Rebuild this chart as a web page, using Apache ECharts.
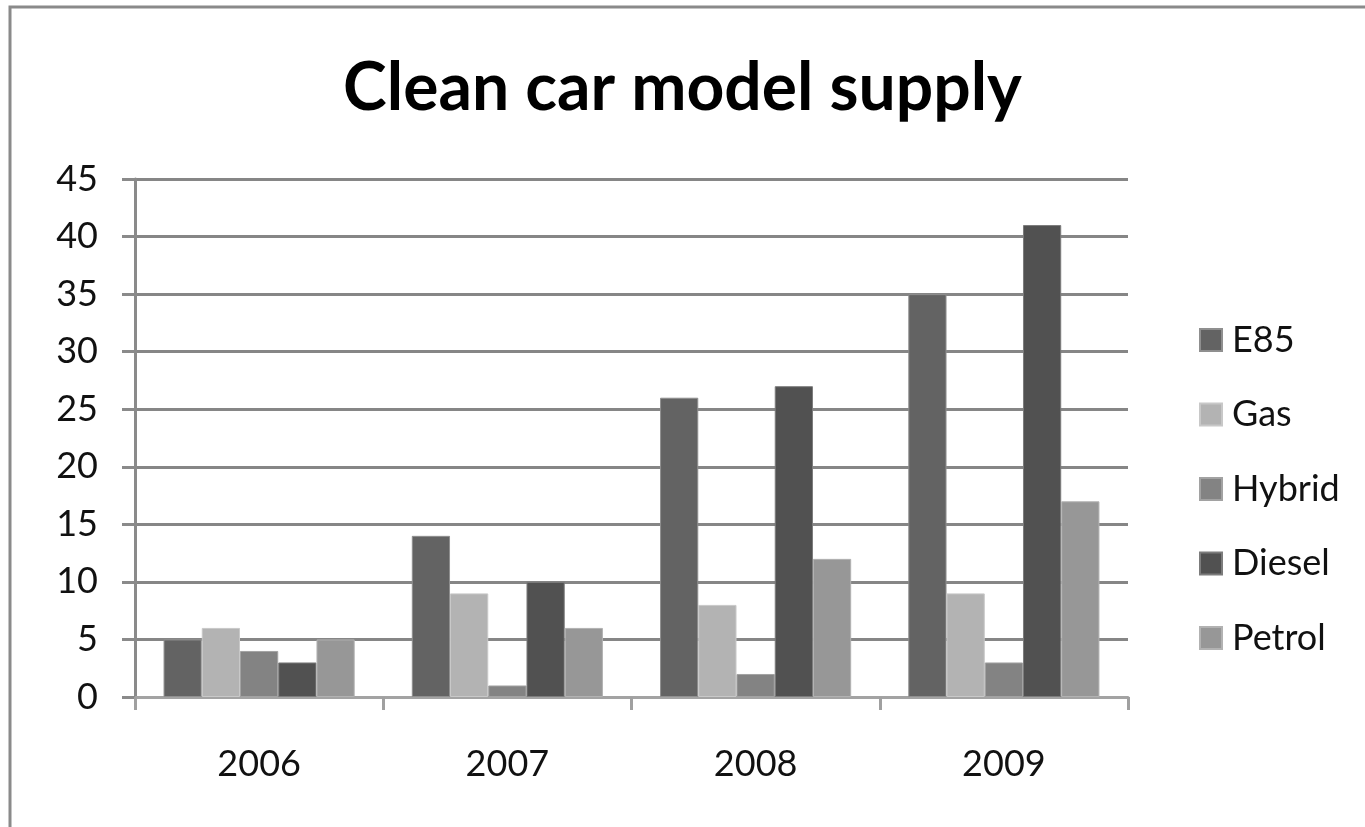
<!DOCTYPE html>
<html>
<head>
<meta charset="utf-8">
<title>Clean car model supply</title>
<script src="https://cdn.jsdelivr.net/npm/echarts@6/dist/echarts.min.js"></script>
<style>
  html, body { margin: 0; padding: 0; background: #ffffff; }
  #chart { width: 1365px; height: 827px; }
</style>
</head>
<body>
<div id="chart"></div>
<script>
// Chart data
const years = ['2006', '2007', '2008', '2009'];
const e85    = [5, 14, 26, 35];
const gas    = [6, 9, 8, 9];
const hybrid = [4, 1, 2, 3];
const diesel = [3, 10, 27, 41];
const petrol = [5, 6, 12, 17];
const yTicks = [0, 5, 10, 15, 20, 25, 30, 35, 40, 45];

const FONT = 'Lato, "Open Sans", sans-serif';

const seriesDefs = [
  { name: 'E85',    data: e85,    color: '#636363', edge: '#8f8f8f' },
  { name: 'Gas',    data: gas,    color: '#b3b3b3', edge: '#c8c8c8' },
  { name: 'Hybrid', data: hybrid, color: '#838383', edge: '#a2a2a2' },
  { name: 'Diesel', data: diesel, color: '#515151', edge: '#7c7c7c' },
  { name: 'Petrol', data: petrol, color: '#979797', edge: '#b2b2b2' }
];

const chart = echarts.init(document.getElementById('chart'), null, { renderer: 'canvas' });

chart.setOption({
  animation: false,
  backgroundColor: '#ffffff',
  title: {
    text: 'Clean car model supply',
    left: 'center',
    top: 51,
    textStyle: { fontFamily: FONT, fontWeight: 'bold', fontSize: 66, color: '#000000' }
  },
  legend: {
    orient: 'vertical',
    left: 1194,
    top: 315,
    itemWidth: 22,
    itemHeight: 22,
    itemGap: 34.5,
    icon: 'rect',
    textStyle: { fontFamily: FONT, fontSize: 36, color: '#111111', lineHeight: 40, padding: [0, 0, 0, 5] },
    data: seriesDefs.map(s => s.name)
  },
  grid: { left: 135, right: 237, top: 179, bottom: 130, containLabel: false },
  xAxis: {
    type: 'category',
    data: years,
    axisLine: { show: true, lineStyle: { color: '#a3a3a3', width: 3 } },
    axisTick: { show: true, length: 13, lineStyle: { color: '#a0a0a0', width: 3 } },
    axisLabel: { margin: 49, fontFamily: FONT, fontSize: 36, color: '#111111' },
    splitLine: { show: false }
  },
  yAxis: {
    type: 'value',
    min: yTicks[0],
    max: yTicks[yTicks.length - 1],
    interval: yTicks[1] - yTicks[0],
    axisLine: { show: true, lineStyle: { color: '#8a8a8a', width: 3 } },
    axisTick: { show: true, length: 13, lineStyle: { color: '#8a8a8a', width: 3 } },
    axisLabel: { margin: 37, fontFamily: FONT, fontSize: 36, color: '#111111' },
    splitLine: { show: true, lineStyle: { color: '#868686', width: 3 } }
  },
  series: seriesDefs.map(s => ({
    name: s.name,
    type: 'bar',
    data: s.data,
    barGap: '0%',
    barCategoryGap: '23%',
    itemStyle: { color: s.color, borderColor: s.edge, borderWidth: 1 },
    emphasis: { disabled: true }
  })),
  graphic: [
    {
      // outer chart frame (top and left edges visible)
      type: 'rect',
      silent: true,
      shape: { x: 10, y: 7, width: 1400, height: 900 },
      style: { fill: 'none', stroke: '#8a8a8a', lineWidth: 3 }
    }
  ]
});
</script>
</body>
</html>
